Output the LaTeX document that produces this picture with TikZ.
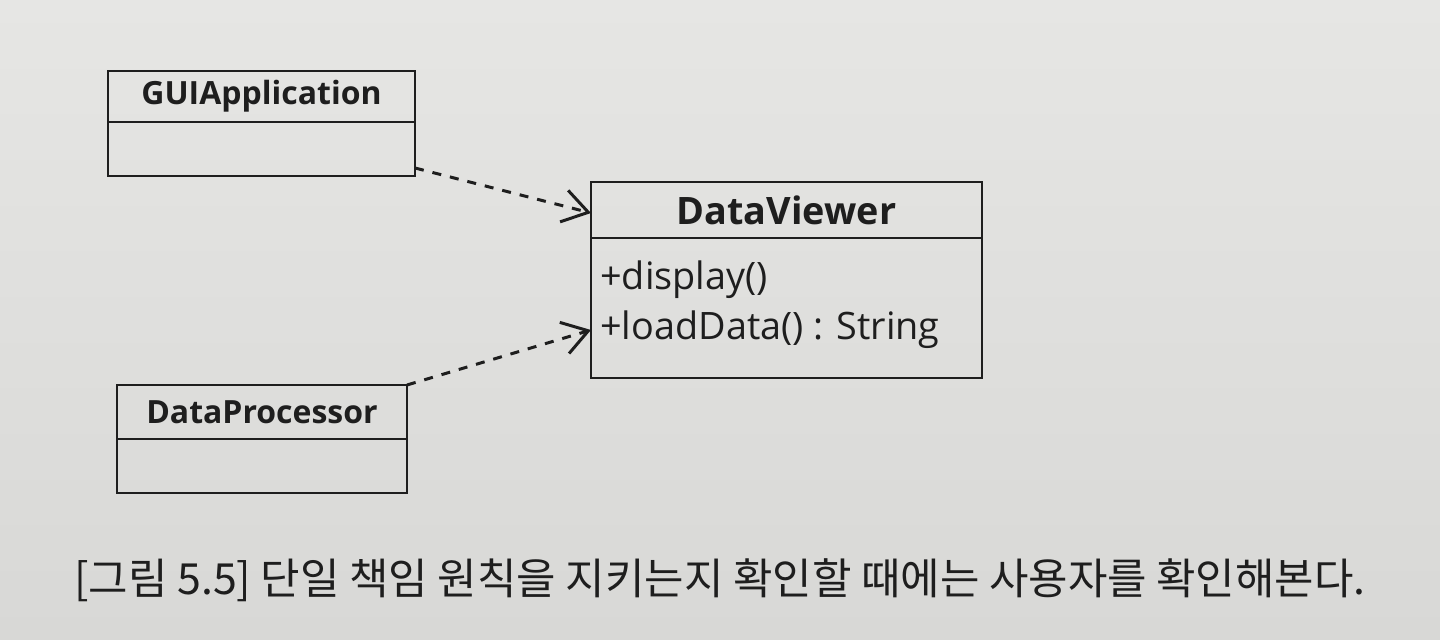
\documentclass[tikz,border=0pt]{standalone}
\usepackage{fontspec}
\setmainfont{Open Sans}
\newfontfamily\krfont{Noto Sans CJK KR}
\usetikzlibrary{arrows.meta, positioning, calc}
\definecolor{pagegray}{HTML}{E6E6E4}
\definecolor{pagedark}{HTML}{D8D8D6}
\definecolor{inkdark}{HTML}{1E1E1E}

\begin{document}
\begin{tikzpicture}[
  classhead/.style={draw=inkdark, line width=1.6pt, minimum width=#1, inner sep=0pt, outer sep=0pt,
    font=\fontsize{18.2}{21}\selectfont\bfseries, text=inkdark},
  classbody/.style={draw=inkdark, line width=1.6pt, minimum width=#1, inner sep=0pt, outer sep=0pt},
  member/.style={font=\fontsize{21.5}{24}\selectfont, text=inkdark, inner sep=0pt, anchor=west},
  depends/.style={draw=inkdark, line width=1.7pt, dash pattern=on 0.18cm off 0.18cm,
    -{Straight Barb[length=0.5cm, width=0.65cm, line width=1.7pt]}}
]
  % Page background
  \shade[top color=pagegray, bottom color=pagedark] (0,0) rectangle (28.8,12.78);
  \useasboundingbox (0,0) rectangle (28.8,12.78);

  % GUIApplication
  \node[classhead=6.14cm, minimum height=1.02cm] (gui) at (5.23,10.85) {GUIApplication};
  \node[classbody=6.14cm, minimum height=1.08cm, below=0pt of gui] (guibody) {};

  % DataViewer
  \node[classhead=7.82cm, minimum height=1.12cm, font=\fontsize{21.5}{24}\selectfont\bfseries] (dv) at (15.73,8.58) {DataViewer};
  \node[classbody=7.82cm, minimum height=2.8cm, below=0pt of dv] (dvbody) {};
  \node[member] (display) at (12.0,7.18) {+display()};
  \node[member] (load) at (12.0,6.18) {+loadData() : String};

  % DataProcessor
  \node[classhead=5.8cm, minimum height=1.08cm] (dp) at (5.24,4.54) {DataProcessor};
  \node[classbody=5.8cm, minimum height=1.08cm, below=0pt of dp] (dpbody) {};

  % Dependencies
  \draw[depends] ([yshift=0.16cm]guibody.south east) -- ([yshift=-0.06cm]dv.west);
  \draw[depends] (dp.north east) -- (dvbody.west |- load);

  % Caption
  \node[font=\krfont\fontsize{24.4}{28}\selectfont, text=inkdark, inner sep=0pt] (caption) at (14.4,1.18)
    {[그림 5.5] 단일 책임 원칙을 지키는지 확인할 때에는 사용자를 확인해본다.};
\end{tikzpicture}
\end{document}
